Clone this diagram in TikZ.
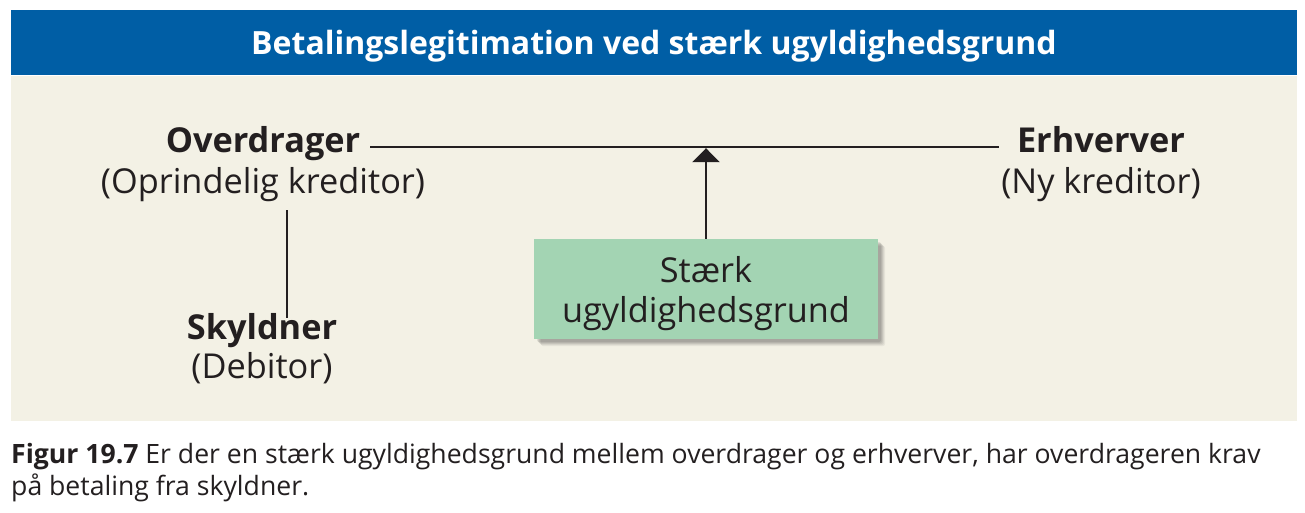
\documentclass[tikz,border=0pt]{standalone}
\usepackage{fontspec}
\setmainfont{Open Sans}
\usetikzlibrary{arrows.meta,calc}
\definecolor{hdrblue}{HTML}{005EA5}
\definecolor{panel}{HTML}{F3F1E5}
\definecolor{boxgreen}{HTML}{A3D4B3}
\definecolor{ink}{HTML}{231F20}
\tikzset{
  lbl/.style={inner sep=0pt, anchor=base, text=ink},
  bold/.style={lbl, font=\fontsize{34.3}{40}\selectfont\bfseries},
  sub/.style={lbl, font=\fontsize{34.3}{40}\selectfont},
  link/.style={draw=ink, line width=2.6pt},
}
\begin{document}
\begin{tikzpicture}[x=1pt,y=-1pt]
\useasboundingbox (0,0) rectangle (1305,512);
\fill[white] (0,0) rectangle (1305,512);
% header and panel
\fill[hdrblue] (11,10) rectangle (1297,75);
\fill[panel] (11,76) rectangle (1297,421);
\node[inner sep=0pt, anchor=base, text=white, font=\fontsize{32}{38}\selectfont\bfseries] (title) at (654,54) {Betalingslegitimation ved stærk ugyldighedsgrund};
% parties
\node[bold] (ov) at (263,152) {Overdrager};
\node[sub] (ovs) at (263,193) {(Oprindelig kreditor)};
\node[bold] (er) at (1101,152) {Erhverver};
\node[sub] (ers) at (1101,193) {(Ny kreditor)};
\node[bold] (sk) at (262,339) {Skyldner};
\node[sub] (sks) at (262,378) {(Debitor)};
% green box with soft shadow
\foreach \i/\o in {7/0.05,6/0.06,5/0.07,4/0.08,3/0.09}{
  \fill[black, opacity=\o, rounded corners=2pt] (534+\i,239+\i) rectangle (878+\i,339+\i);
}
\node[fill=boxgreen, minimum width=344pt, minimum height=100pt, inner sep=0pt, text=ink,
      align=center, text height=74pt, text depth=8pt, font=\fontsize{34.3}{40}\selectfont] (box) at (706,289) {Stærk\\ugyldighedsgrund};
% connectors
\coordinate (lineL) at ($(ov.base east)+(10,-5)$);
\coordinate (lineR) at ($(er.base west)+(-18,-5)$);
\draw[link] (lineL) -- (lineR);
\draw[link, -{Triangle[length=14pt,width=27pt]}, shorten >=1.2pt] (box.north) -- (box.north |- lineL);
\coordinate (vtop) at (287,210);
\coordinate (vbot) at (287,318);
\draw[draw=ink, line width=2.2pt] (vtop) -- (vbot);
% caption (base anchor = baseline of last line)
\node[inner sep=0pt, anchor=base west, align=left, text=ink, font=\fontsize{26.6}{32}\selectfont] (cap) at (11,495)
  {\textbf{Figur 19.7} Er der en stærk ugyldighedsgrund mellem overdrager og erhverver, har overdrageren krav\\på betaling fra skyldner.};
\end{tikzpicture}
\end{document}
